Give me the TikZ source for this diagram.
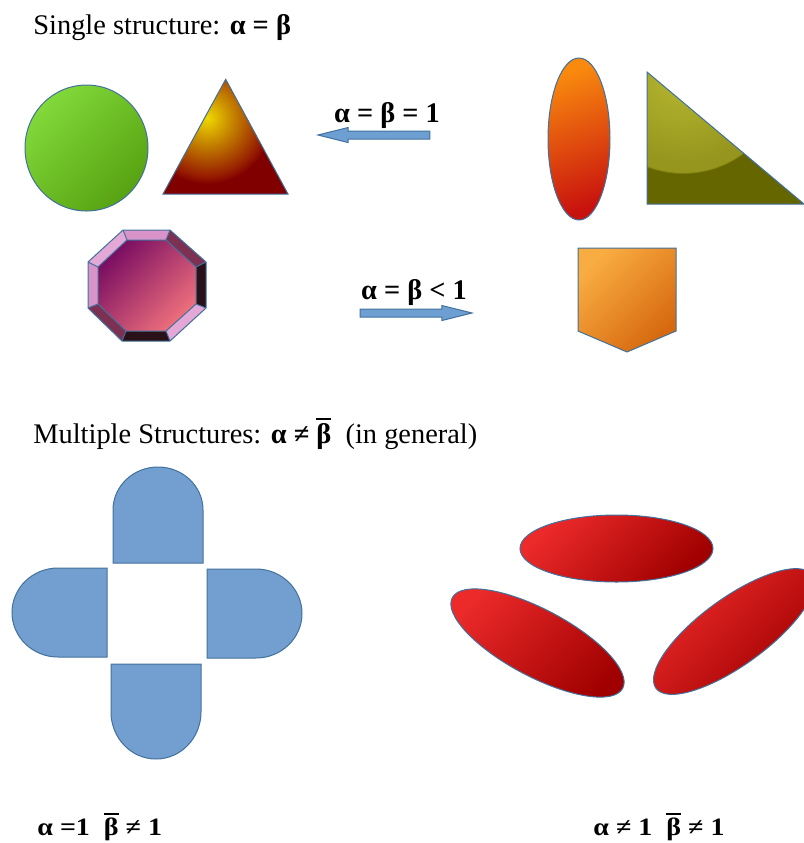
\documentclass[tikz,border=0pt]{standalone}
\usepackage{fontspec}
\setmainfont{Liberation Serif}
\usepackage{tikz}
\usetikzlibrary{shapes.arrows}
\usepackage{xcolor}
\definecolor{edgec}{HTML}{41719C}
\definecolor{greenA}{HTML}{82D93A}
\definecolor{greenB}{HTML}{57A211}
\definecolor{tric}{HTML}{800000}
\definecolor{triglow}{HTML}{F0D800}
\definecolor{trimid}{HTML}{C88A00}
\definecolor{triedge}{HTML}{961C00}
\definecolor{olivec}{HTML}{666600}
\definecolor{oliveglow}{HTML}{B8B832}
\definecolor{olivemid}{HTML}{96961E}
\definecolor{orangeA}{HTML}{F98A0E}
\definecolor{orangeB}{HTML}{C8120E}
\definecolor{shieldA}{HTML}{F9AC42}
\definecolor{shieldB}{HTML}{D6680E}
\definecolor{octA}{HTML}{7A0E62}
\definecolor{octB}{HTML}{EE707C}
\definecolor{bevL}{HTML}{D894C8}
\definecolor{bevP}{HTML}{E3A8D6}
\definecolor{bevM}{HTML}{7C3152}
\definecolor{bevD}{HTML}{2A1119}
\definecolor{arrowc}{HTML}{6E9FD3}
\definecolor{domec}{HTML}{729FCF}
\definecolor{redA}{HTML}{EC2A2A}
\definecolor{redB}{HTML}{A00000}
\pgfdeclareradialshading{triglowshade}{\pgfpoint{0bp}{0bp}}{color(0bp)=(triglow); color(9bp)=(trimid); color(22bp)=(triedge); color(25bp)=(tric); color(50bp)=(tric)}
\pgfdeclareradialshading{oliveglowshade}{\pgfpoint{0bp}{0bp}}{color(0bp)=(oliveglow); color(22bp)=(olivemid); color(24.5bp)=(olivemid); color(25bp)=(olivec); color(50bp)=(olivec)}
\newcommand{\barred}[1]{\sbox0{#1}\rlap{\rule[\dimexpr\ht0+0.1em\relax]{\wd0}{0.09em}}\usebox0}

\begin{document}
\begin{tikzpicture}[x=0.5pt, y=0.5pt,
  shp/.style={draw=edgec, line width=0.5pt},
  diag/.style 2 args={top color=#1, bottom color=#2, shading angle=45},
  blockarr/.style={single arrow, draw=edgec, fill=arrowc, line width=0.5pt,
    minimum height=56pt, minimum width=0pt, inner xsep=0pt, inner ysep=1.75pt,
    single arrow head extend=1.75pt, single arrow tip angle=28},
  title/.style={anchor=base west, inner sep=0pt, font=\fontsize{14.2}{17}\selectfont},
  rel/.style={anchor=base, inner sep=0pt, font=\fontsize{14.2}{17}\selectfont\bfseries},
  result/.style={anchor=base west, inner sep=0pt, font=\fontsize{12.5}{15}\selectfont\bfseries},
  dome/.style={shp, fill=domec},
  blob/.style={shp, diag={redA}{redB}}
]
  \useasboundingbox (0,0) rectangle (804,-843);
  \clip (0,0) rectangle (804,-843);

  % single structure
  \node[title] (single) at (33,-34) {Single structure: \textbf{α = β}};

  \shadedraw[shp, diag={greenA}{greenB}] (86.5,-148) ellipse [x radius=61.5, y radius=63];

  \fill[tric] (225.7,-79.3) -- (288,-194) -- (163,-194) -- cycle;
  \begin{scope}
    \clip (225.7,-79.3) -- (288,-194) -- (163,-194) -- cycle;
    \shade[shading=triglowshade] (207,-118) circle [radius=66];
  \end{scope}
  \draw[shp] (225.7,-79.3) -- (288,-194) -- (163,-194) -- cycle;

  \shadedraw[shp, top color=orangeA, bottom color=orangeB, shading angle=20]
    (579,-139) ellipse [x radius=31, y radius=81];

  \fill[olivec] (647,-72) -- (647,-204) -- (804,-204) -- cycle;
  \begin{scope}
    \clip (647,-72) -- (647,-204) -- (804,-204) -- cycle;
    \shade[shading=oliveglowshade] (683,-72) circle [radius=102];
  \end{scope}
  \draw[shp] (647,-72) -- (647,-204) -- (804,-204) -- cycle;

  % octagon with bevel
  \coordinate (o1) at (123,-230);
  \coordinate (o2) at (170,-230);
  \coordinate (o3) at (206,-262);
  \coordinate (o4) at (206,-308);
  \coordinate (o5) at (170,-341);
  \coordinate (o6) at (122,-341);
  \coordinate (o7) at (88,-308);
  \coordinate (o8) at (88,-262);
  \coordinate (i1) at (127,-240);
  \coordinate (i2) at (166,-240);
  \coordinate (i3) at (196,-267);
  \coordinate (i4) at (196,-304);
  \coordinate (i5) at (166,-331);
  \coordinate (i6) at (126,-331);
  \coordinate (i7) at (98,-304);
  \coordinate (i8) at (98,-267);
  \foreach \a/\b/\c in {1/2/bevL, 2/3/bevM, 3/4/bevD, 4/5/bevP, 5/6/bevD, 6/7/bevM, 7/8/bevL, 8/1/bevP}
    \fill[\c] (o\a) -- (o\b) -- (i\b) -- (i\a) -- cycle;
  \shadedraw[shp, diag={octA}{octB}] (i1) -- (i2) -- (i3) -- (i4) -- (i5) -- (i6) -- (i7) -- (i8) -- cycle;
  \draw[shp] (o1) -- (o2) -- (o3) -- (o4) -- (o5) -- (o6) -- (o7) -- (o8) -- cycle;
  \foreach \k in {1,...,8}
    \draw[shp] (o\k) -- (i\k);

  \shadedraw[shp, diag={shieldA}{shieldB}]
    (578,-248) -- (676,-248) -- (676,-331) -- (627,-352) -- (578,-331) -- cycle;

  % arrows between the groups
  \node[blockarr, shape border rotate=180] (toone) at (382,-135) {};
  \node[rel] (eqone) at (387,-122) {α = β = 1};
  \node[blockarr] (toless) at (408,-313) {};
  \node[rel] (eqless) at (414,-299) {α = β < 1};

  % multiple structures
  \node[title] (multi) at (33,-443) {Multiple Structures: \textbf{α ≠ \barred{β}}\ \ (in general)};

  \path[dome] (113,-563) -- (113,-510) arc [start angle=180, end angle=0, x radius=45, y radius=43] -- (203,-563) -- cycle;
  \path[dome] (107,-568) -- (58,-568) arc [start angle=90, end angle=270, x radius=46, y radius=44.5] -- (107,-657) -- cycle;
  \path[dome] (207,-569) -- (256,-569) arc [start angle=90, end angle=-90, x radius=46, y radius=44.5] -- (207,-658) -- cycle;
  \path[dome] (111,-664) -- (111,-712) arc [start angle=180, end angle=360, x radius=45, y radius=47] -- (201,-664) -- cycle;

  \shadedraw[blob] (616.5,-548.5) ellipse [x radius=96.5, y radius=33.5];
  \shadedraw[blob, rotate around={-28:(537.5,-643)}] (537.5,-643) ellipse [x radius=96.5, y radius=33.5];
  \shadedraw[blob, rotate around={36:(734,-631.5)}] (734,-631.5) ellipse [x radius=96.5, y radius=33.5];

  \node[result] (caseone) at (37,-835) {\scalebox{1.12}[1]{α =1\ \ \barred{β} ≠ 1}};
  \node[result] (casetwo) at (593,-835) {\scalebox{1.12}[1]{α ≠ 1\ \ \barred{β} ≠ 1}};
\end{tikzpicture}
\end{document}
